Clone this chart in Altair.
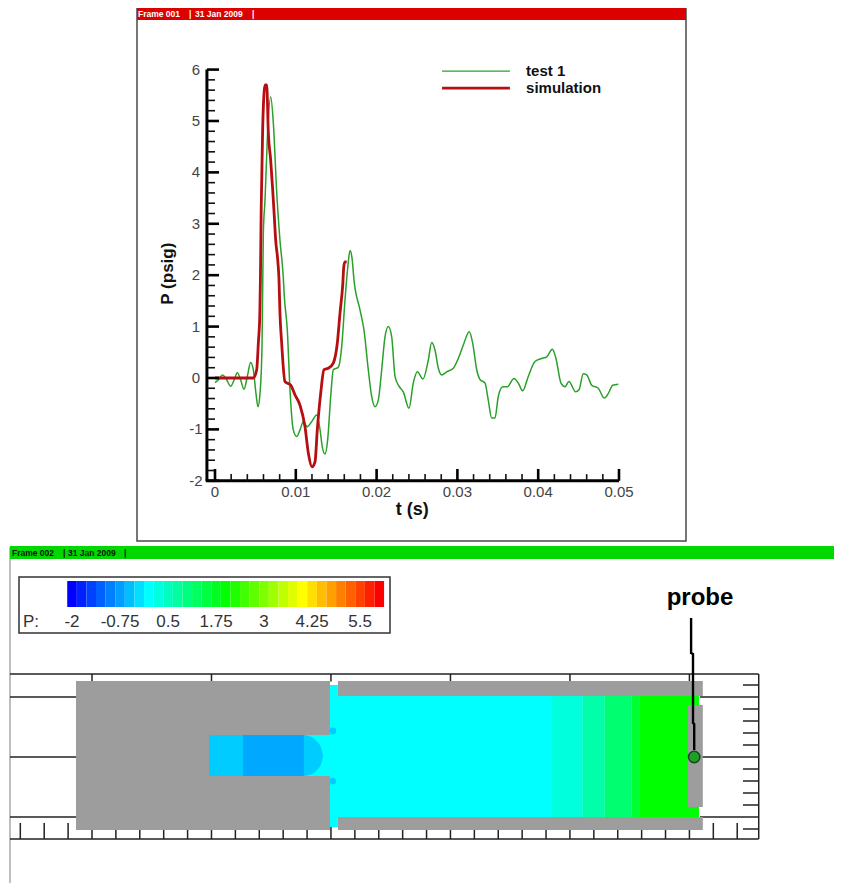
import altair as alt
import pandas as pd

FONT = "Liberation Sans"

# ---- pressure traces
test_t = [0, .0004, .00095, .00136, .00194, .00239, .00276, .00318, .00359, .004, .00441, .00474, .00507, .00532, .00557, .00582,
          .00598, .00619, .00647, .00689, .00722, .00764, .00804, .00845, .00858, .00895, .00928, .00969, .01011, .01052, .01093,
          .01142, .01196, .01259, .013, .01328, .01361, .01394, .01432, .01464, .01526, .01568, .01609, .01646, .01671, .01696,
          .0172, .01795, .01844, .01897, .01939, .0198, .02021, .02063, .02104, .02145, .02187, .02228, .02277, .0233, .02401,
          .02454, .02504, .02574, .0264, .02682, .02723, .02764, .02806, .02868, .02949, .03011, .03073, .03147, .03189, .03239,
          .0328, .03342, .03382, .03424, .03465, .03506, .03561, .03618, .037, .03754, .03808, .03877, .0396, .04043, .04105,
          .04175, .0422, .04282, .04332, .04381, .04464, .04505, .04558, .046, .04662, .04744, .04818, .04868, .04922, .04991]
test_p = [-.09, -.04, .06, -.01, -.16, -.03, .10, -.04, -.22, .03, .30, .16, -.30, -.56, -.30, .61,
          2.82, 3.46, 4.63, 5.47, 4.96, 3.60, 2.68, 1.96, 1.58, .93, -.23, -1.01, -1.14, -1.01, -.85,
          -.95, -.85, -.72, -1.01, -1.34, -1.48, -1.21, -.36, .16, .21, .61, 1.52, 2.20, 2.48, 2.33,
          1.91, 1.32, .93, .16, -.36, -.56, -.43, .16, .80, 1.0, .80, .03, -.16, -.27, -.59,
          -.10, .12, -.02, .35, .69, .54, .19, .06, .12, .19, .38, .64, .90, .68, .16,
          -.03, -.10, -.43, -.78, -.78, -.36, -.17, -.17, -.01, -.10, -.25, .03, .32, .38, .41,
          .56, .38, -.10, -.17, -.07, -.27, -.23, .08, .06, -.14, -.20, -.39, -.30, -.14, -.12]
sim_t = [0, .00475, .00516, .00536, .00555, .00562, .00572, .0059, .00619, .0064, .0066, .00689, .00714, .00734, .00751, .00776,
         .00792, .00804, .00825, .00866, .00937, .0099, .01052, .01114, .01155, .012, .01238, .01266, .01308, .01349, .01402,
         .01464, .01514, .01547, .01582, .01594, .01609, .0163]
sim_p = [0, 0, .16, .67, 1.26, 1.91, 3.33, 4.86, 5.70, 5.70, 4.77, 4.24, 3.66, 3.14, 2.68, 2.30,
         1.91, 1.26, .68, -.07, -.14, -.33, -.53, -.95, -1.46, -1.73, -1.63, -1.01, -.30, .16, .19,
         .29, .68, 1.26, 1.84, 2.17, 2.26, 2.26]

t_major = [0, .01, .02, .03, .04, .05]
t_major_labels = ["0", "0.01", "0.02", "0.03", "0.04", "0.05"]
t_minor = [.002, .004, .006, .008, .012, .014, .016, .018, .022, .024, .026, .028, .032, .034, .036, .038, .042, .044, .046, .048]
p_major = [-2, -1, 0, 1, 2, 3, 4, 5, 6]
p_minor = [v / 10 for v in range(-20, 60, 2) if v % 10 != 0]

# ---- colour contour levels
levels = [-2 + i * .25 for i in range(33)]
level_colors = ["#0000ff", "#0020ff", "#0040ff", "#0060ff", "#0080ff", "#009fff", "#00bfff", "#00dfff", "#00ffff",
                "#00ffdf", "#00ffbf", "#00ff9f", "#00ff80", "#00ff60", "#00ff40", "#00ff20", "#00ff00",
                "#20ff00", "#40ff00", "#60ff00", "#80ff00", "#9fff00", "#bfff00", "#dfff00", "#ffff00",
                "#ffdf00", "#ffbf00", "#ff9f00", "#ff8000", "#ff6000", "#ff4000", "#ff2000", "#ff0000"]
bar_labels = [-2, -.75, .5, 1.75, 3, 4.25, 5.5]
bar_label_text = ["-2", "-0.75", "0.5", "1.75", "3", "4.25", "5.5"]

# ---- schematic regions (x0, x1, y0, y1, colour), in grid units
GRAY = "#9d9d9d"
regions = [
    (9.96, 19.25, -5.0, 5.08, "#00ffff"),
    (19.25, 20.54, -5.0, 5.08, "#00ffdd"),
    (20.54, 21.46, -5.0, 5.08, "#00ffa8"),
    (21.46, 22.59, -5.0, 5.08, "#00ff70"),
    (22.59, 22.93, -5.0, 5.08, "#00ff30"),
    (22.93, 25.4, -5.0, 5.08, "#00ff00"),
    (9.96, 10.29, -5.83, 6.0, "#00ffff"),
    (-0.67, 9.96, -6.08, 6.33, GRAY),
    (10.29, 25.56, 5.08, 6.33, GRAY),
    (10.29, 25.56, -6.08, -5.0, GRAY),
    (24.94, 25.56, -4.17, 4.33, GRAY),
    (4.9, 6.32, -1.58, 1.83, "#00ccff"),
    (6.32, 8.87, -1.58, 1.83, "#00a8ff"),
    (8.87, 9.96, -1.58, 1.83, "#00ffff"),
]
nose_x = [8.87, 9.2, 9.45, 9.6, 9.67]
nose_top = [1.83, 1.65, 1.2, .7, .12]
nose_bottom = [-1.58, -1.42, -1.0, -.5, .12]
spot_x = [10.08, 10.08]
spot_y = [2.17, -2.0]
probe_line_x = [25.07, 25.07, 25.15, 25.15, 25.2, 25.2]
probe_line_y = [11.58, 8.67, 8.58, 2.83, 2.75, .58]
grid_x_major = [0, 5, 10, 15, 20, 25]
grid_x_minor = list(range(-3, 28))
grid_y_major = [5, 0, -5]
grid_y_minor = [6, 4, 3, 2, 1, -1, -2, -3, -4, -6]

# ---- coordinate systems mapped on the same page
SC = {
    "page_x": alt.Scale(domain=[8, 834], nice=False, zero=False),
    "page_y": alt.Scale(domain=[883, 8], nice=False, zero=False),
    "t": alt.Scale(domain=[-.02562, .07661], nice=False, zero=False),
    "p": alt.Scale(domain=[-9.825, 7.198], nice=False, zero=False),
    "gx": alt.Scale(domain=[-3.515, 31.05], nice=False, zero=False),
    "gy": alt.Scale(domain=[-10.5, 62.42], nice=False, zero=False),
    "bar": alt.Scale(domain=[-3.667, 17.84], nice=False, zero=False),
}


def enc(sx, sy, **extra):
    e = dict(x=alt.X("x:Q", scale=SC[sx], axis=None), y=alt.Y("y:Q", scale=SC[sy], axis=None))
    e.update(extra)
    return e


def rects(rows, sx, sy, **mark):
    df = pd.DataFrame(rows, columns=["x", "x2", "y", "y2", "c"])
    return alt.Chart(df).mark_rect(**mark).encode(
        **enc(sx, sy, x2="x2:Q", y2="y2:Q", color=alt.Color("c:N", scale=None)))


def hrules(ys, x0, x1, sx, sy, color="#222222", width=1.5):
    df = pd.DataFrame({"y": ys, "x": x0, "x2": x1})
    return alt.Chart(df).mark_rule(color=color, strokeWidth=width).encode(**enc(sx, sy, x2="x2:Q"))


def vrules(xs, y0, y1, sx, sy, color="#222222", width=1.5):
    df = pd.DataFrame({"x": xs, "y": y0, "y2": y1})
    return alt.Chart(df).mark_rule(color=color, strokeWidth=width).encode(**enc(sx, sy, y2="y2:Q"))


def texts(xs, ys, labels, sx, sy, **mark):
    mark.setdefault("font", FONT)
    mark.setdefault("baseline", "middle")
    df = pd.DataFrame({"x": xs, "y": ys, "s": labels})
    return alt.Chart(df).mark_text(**mark).encode(**enc(sx, sy, text="s:N"))


def line(xs, ys, sx, sy, **mark):
    df = pd.DataFrame({"x": xs, "y": ys, "i": range(len(xs))})
    return alt.Chart(df).mark_line(**mark).encode(**enc(sx, sy, order="i:Q"))


layers = []

# page frames
layers += [
    vrules([10], 547, 883, "page_x", "page_y", color="#aaaaaa", width=1.5),
    rects([(137, 686, 8, 541, "#ffffff")], "page_x", "page_y", stroke="#4a4a4a", strokeWidth=1.5),
    rects([(137, 686, 8, 20, "#dc0000")], "page_x", "page_y"),
    rects([(10, 834, 546, 559, "#00d800")], "page_x", "page_y"),
    texts([138, 189, 195, 252], [14, 14, 14, 14], ["Frame 001", "|", "31 Jan 2009", "|"], "page_x", "page_y",
          color="#ffffff", fontSize=8.5, align="left", fontWeight="bold"),
    texts([12, 63, 68, 124], [553, 553, 553, 553], ["Frame 002", "|", "31 Jan 2009", "|"], "page_x", "page_y",
          color="#111111", fontSize=8.5, align="left", fontWeight="bold"),
]

# pressure plot
layers += [
    line(test_t, test_p, "t", "p", color="#2aa02a", strokeWidth=1.5, interpolate="monotone"),
    line(sim_t, sim_p, "t", "p", color="#b50f12", strokeWidth=2.8, interpolate="monotone"),
    vrules([-.001], -2, 6, "t", "p", color="#000000", width=3),
    hrules([-2], -.00115, .05, "t", "p", color="#000000", width=3),
    hrules(p_major, -.001, .0005, "t", "p", color="#000000", width=2.6),
    hrules(p_minor, -.001, 0, "t", "p", color="#111111", width=1.6),
    vrules(t_major, -2, -1.77, "t", "p", color="#000000", width=2.6),
    vrules(t_minor, -2, -1.87, "t", "p", color="#111111", width=1.6),
    texts(t_major, [-2.22] * 6, t_major_labels, "t", "p", color="#444444", fontSize=15, align="center"),
    texts([-.00235] * 9, p_major, [str(v) for v in p_major], "t", "p", color="#444444", fontSize=15, align="center"),
    texts([.0244], [-2.56], ["t (s)"], "t", "p", color="#111111", fontSize=18, fontWeight="bold", align="center"),
    texts([-.00582], [2.03], ["P (psig)"], "t", "p", color="#111111", fontSize=17, fontWeight="bold",
          align="center", angle=270),
    hrules([5.97], .0281, .0365, "t", "p", color="#2aa02a", width=1.4),
    hrules([5.64], .0281, .0365, "t", "p", color="#b50f12", width=2.8),
    texts([.0385, .0385], [5.97, 5.64], ["test 1", "simulation"], "t", "p", color="#111111", fontSize=15,
          fontWeight="bold", align="left"),
]

# colour legend
bar_rows = [(lv - .125, lv + .125, 581, 607, c) for lv, c in zip(levels, level_colors)]
layers += [
    rects([(19, 390, 577, 633, "#ffffff")], "page_x", "page_y", stroke="#333333", strokeWidth=1.5),
    rects(bar_rows, "bar", "page_y"),
    texts([23], [622], ["P:"], "page_x", "page_y", color="#333333", fontSize=17, align="left"),
    texts(bar_labels, [622] * 7, bar_label_text, "bar", "page_y", color="#333333", fontSize=17, align="center"),
]

# schematic
nose = pd.DataFrame({"x": nose_x, "y": nose_top, "y2": nose_bottom})
spots = pd.DataFrame({"x": spot_x, "y": spot_y})
probe_pt = pd.DataFrame({"x": [25.2], "y": [0]})
layers += [
    hrules([6.92, -6.83], -3.43, 27.9, "gx", "gy"),
    vrules([27.9], -6.83, 6.92, "gx", "gy"),
    hrules(grid_y_major, -3.43, -0.67, "gx", "gy"),
    hrules(grid_y_major, 25.44, 27.9, "gx", "gy"),
    hrules(grid_y_minor, 27.24, 27.9, "gx", "gy"),
    vrules(grid_x_major, 6.92, 6.3, "gx", "gy"),
    vrules(grid_x_minor, -6.83, -5.5, "gx", "gy"),
    rects(regions, "gx", "gy"),
    alt.Chart(nose).mark_area(color="#00ccff", interpolate="monotone").encode(**enc("gx", "gy", y2="y2:Q")),
    alt.Chart(spots).mark_point(filled=True, color="#00ccff", size=45, opacity=1).encode(**enc("gx", "gy")),
    line(probe_line_x, probe_line_y, "gx", "gy", color="#000000", strokeWidth=2.4),
    alt.Chart(probe_pt).mark_point(filled=True, fill="#1f9f2a", stroke="#124a18", strokeWidth=1.5, size=130,
                                   opacity=1).encode(**enc("gx", "gy")),
    texts([700], [598], ["probe"], "page_x", "page_y", color="#000000", fontSize=24, fontWeight="bold", align="center"),
]

chart = alt.layer(*layers).resolve_scale(x="independent", y="independent").properties(
    width=826, height=875, padding=0, autosize=alt.AutoSizeParams(type="none"),
    background="#ffffff",
).configure_view(stroke=None)

chart.save("out.html", embed_options={"renderer": "svg", "actions": False})
